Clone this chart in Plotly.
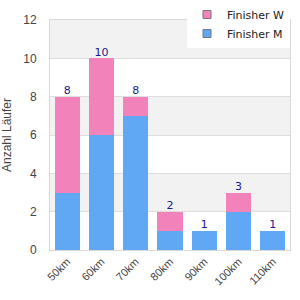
import plotly.graph_objects as go

categories = ["50km", "60km", "70km", "80km", "90km", "100km", "110km"]
finisher_m = [3, 6, 7, 1, 1, 2, 1]
finisher_w = [5, 4, 1, 1, 0, 1, 0]
totals = [m + w for m, w in zip(finisher_m, finisher_w)]
y_ticks = [0, 2, 4, 6, 8, 10, 12]

color_m = "#60A8F4"
color_w = "#F282BA"

fig = go.Figure()
fig.add_trace(go.Bar(x=categories, y=finisher_m, name="Finisher M", showlegend=False,
                     marker=dict(color=color_m, line=dict(width=0))))
fig.add_trace(go.Bar(x=categories, y=finisher_w, name="Finisher W", showlegend=False,
                     marker=dict(color=color_w, line=dict(width=0))))
fig.add_trace(go.Scatter(x=categories, y=totals, mode="text",
                         text=[str(t) for t in totals], textposition="top center",
                         textfont=dict(color="#1a1a8c", size=11, family="DejaVu Sans"),
                         showlegend=False, hoverinfo="skip", cliponaxis=False))
# legend entries
for name, col in [("Finisher W", color_w), ("Finisher M", color_m)]:
    fig.add_trace(go.Scatter(x=[None], y=[None], mode="markers", name=name,
                             marker=dict(symbol="square", size=8, color=col,
                                         line=dict(color="#777", width=1))))

shapes = []
for lo in [2, 6, 10]:
    shapes.append(dict(type="rect", xref="paper", yref="y", x0=0, x1=1, y0=lo, y1=lo + 2,
                       fillcolor="#F2F2F2", line=dict(width=0), layer="below"))

fig.update_layout(
    width=300, height=300,
    margin=dict(l=50, r=10, t=20, b=50, autoexpand=False),
    paper_bgcolor="white", plot_bgcolor="white",
    barmode="stack", bargap=0.27,
    shapes=shapes,
    showlegend=True,
    legend=dict(x=1.0, xanchor="right", y=1.087, yanchor="top", traceorder="normal",
                bgcolor="white", font=dict(family="DejaVu Sans", size=11, color="#222"),
                itemwidth=30, tracegroupgap=0),
    font=dict(family="Liberation Sans", color="#444"),
)
fig.update_xaxes(type="category", tickangle=-45, tickfont=dict(size=11, color="#444"),
                 showline=True, linecolor="#D8D8D8", linewidth=1, mirror=True,
                 ticks="", showgrid=False, automargin=False)
fig.update_yaxes(range=[0, 12], tickvals=y_ticks, tickfont=dict(size=12, color="#444"),
                 showline=True, linecolor="#D8D8D8", linewidth=1, mirror=True,
                 gridcolor="#DDDDDD", gridwidth=1, zeroline=False, ticks="",
                 ticklabelstandoff=10, automargin=False,
                 title=dict(text="Anzahl Läufer", font=dict(size=12, color="#444"), standoff=10))

fig.write_html("out.html")
